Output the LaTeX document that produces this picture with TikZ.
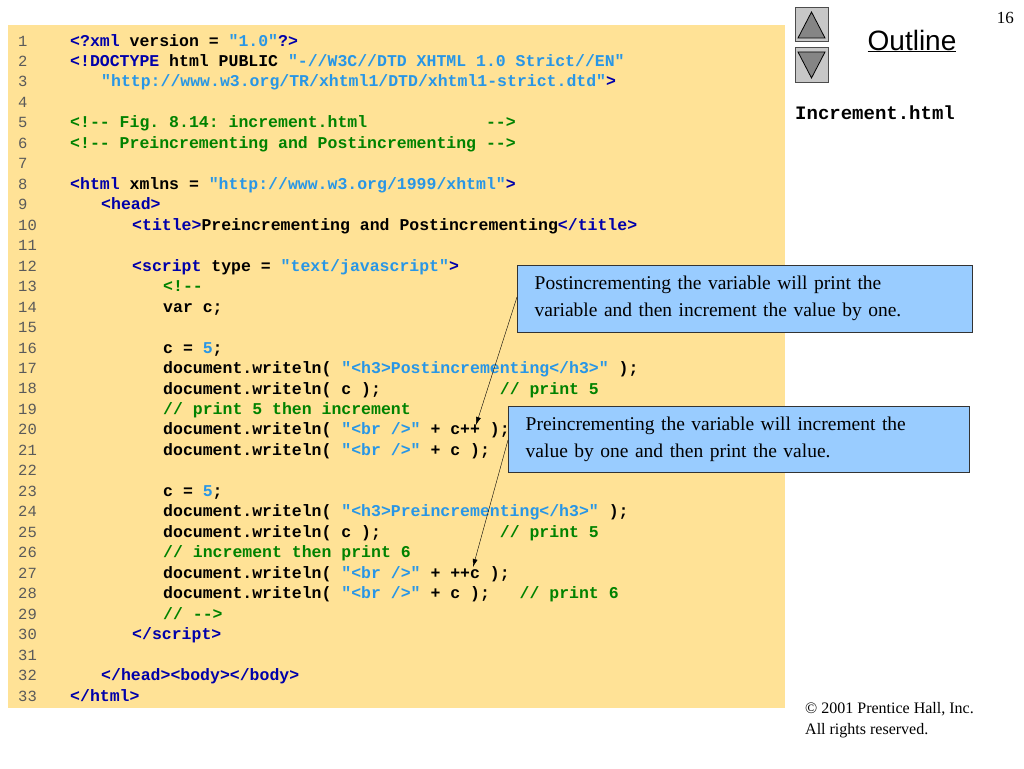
\documentclass[tikz,border=0pt]{standalone}
\usepackage{fontspec}
\setmainfont{Liberation Serif}
\setsansfont{Liberation Sans}
\setmonofont{Liberation Mono}
\usetikzlibrary{arrows.meta, positioning}
\definecolor{panelYellow}{RGB}{255, 226, 150}
\definecolor{tagBlue}{RGB}{0, 0, 170}
\definecolor{strBlue}{RGB}{40, 150, 230}
\definecolor{cmtGreen}{RGB}{0, 130, 0}
\definecolor{numGray}{RGB}{90, 90, 90}
\definecolor{noteBlue}{RGB}{153, 204, 255}
\newcommand\tg[1]{{\color{tagBlue}#1}}
\newcommand\st[1]{{\color{strBlue}#1}}
\newcommand\cm[1]{{\color{cmtGreen}#1}}
\newcommand\gap[1]{\hspace*{#1\fontcharwd\font`0}}
\tikzset{
    codeline/.style={anchor=base west, inner sep=0pt, font=\ttfamily\bfseries\fontsize{16.5}{18}\selectfont},
    lineno/.style={anchor=base west, inner sep=0pt, text=numGray, font=\ttfamily\fontsize{15.5}{18}\selectfont},
    note/.style={rectangle, draw=black!80, fill=noteBlue, inner sep=0pt, anchor=north west,
        align=left, font=\fontsize{19.5}{27}\selectfont},
    pointer/.style={-{Latex[length=8pt,width=5pt]}, black},
    navbtn/.style={draw=black!70, fill=black!22, line width=1pt},
    navtri/.style={draw=black, fill=black!48, line width=0.8pt}
}
\begin{document}
\begin{tikzpicture}[x=1pt, y=-1pt]
    \useasboundingbox (0,0) rectangle (1024,768);
    \fill[white] (0,0) rectangle (1024,768);
    \fill[panelYellow] (8,25) rectangle (785,708);

    % line numbers
    \foreach \n in {1,...,33}
        \node[lineno] (n\n) at (18, {46+(\n-1)*20.47}) {\n};

    % code
    \node[codeline] (c1)  at (70,46)  {\tg{<?xml} version = \st{"1.0"}\tg{?>}};
    \node[codeline] (c2)  at (70,66.5)  {\tg{<!DOCTYPE} html PUBLIC \st{"-//W3C//DTD XHTML 1.0 Strict//EN"}};
    \node[codeline] (c3)  at (101,86.9) {\st{"http://www.w3.org/TR/xhtml1/DTD/xhtml1-strict.dtd"}\tg{>}};
    \node[codeline] (c5)  at (70,127.9) {\cm{<!-- Fig. 8.14: increment.html\gap{12}-->}};
    \node[codeline] (c6)  at (70,148.4) {\cm{<!-- Preincrementing and Postincrementing -->}};
    \node[codeline] (c8)  at (70,189.3) {\tg{<html} xmlns = \st{"http://www.w3.org/1999/xhtml"}\tg{>}};
    \node[codeline] (c9)  at (101,209.8) {\tg{<head>}};
    \node[codeline] (c10) at (132,230.2) {\tg{<title>}Preincrementing and Postincrementing\tg{</title>}};
    \node[codeline] (c12) at (132,271.2) {\tg{<script} type = \st{"text/javascript"}\tg{>}};
    \node[codeline] (c13) at (163,291.6) {\cm{<!--}};
    \node[codeline] (c14) at (163,312.1) {var c;};
    \node[codeline] (c16) at (163,353.0) {c = \st{5};};
    \node[codeline] (c17) at (163,373.5) {document.writeln( \st{"<h3>Postincrementing</h3>"} );};
    \node[codeline] (c18) at (163,394.0) {document.writeln( c );\gap{12}\cm{// print 5}};
    \node[codeline] (c19) at (163,414.4) {\cm{// print 5 then increment}};
    \node[codeline] (c20) at (163,434.9) {document.writeln( \st{"<br />"} + c++ );};
    \node[codeline] (c21) at (163,455.4) {document.writeln( \st{"<br />"} + c );};
    \node[codeline] (c23) at (163,496.3) {c = \st{5};};
    \node[codeline] (c24) at (163,516.8) {document.writeln( \st{"<h3>Preincrementing</h3>"} );};
    \node[codeline] (c25) at (163,537.3) {document.writeln( c );\gap{12}\cm{// print 5}};
    \node[codeline] (c26) at (163,557.7) {\cm{// increment then print 6}};
    \node[codeline] (c27) at (163,578.2) {document.writeln( \st{"<br />"} + ++c );};
    \node[codeline] (c28) at (163,598.7) {document.writeln( \st{"<br />"} + c );\gap{3}\cm{// print 6}};
    \node[codeline] (c29) at (163,619.1) {\cm{// -->}};
    \node[codeline] (c30) at (132,639.6) {\tg{</script>}};
    \node[codeline] (c32) at (101,680.5) {\tg{</head><body></body>}};
    \node[codeline] (c33) at (70,701.0) {\tg{</html>}};

    % callouts
    \node[note, minimum width=455pt, minimum height=67pt, text width=440pt] (post) at (517,265)
        {\hspace*{10pt}Postincrementing the variable will print the\\\hspace*{10pt}variable and then increment the value by one.};
    \node[note, minimum width=461pt, minimum height=66pt, text width=446pt] (pre) at (508,406)
        {\hspace*{10pt}Preincrementing the variable will increment the\\\hspace*{10pt}value by one and then print the value.};
    \coordinate (postfrom) at (517,297);
    \coordinate (postto) at (476,425);
    \coordinate (prefrom) at (508,440);
    \coordinate (preto) at (473,567);
    \draw[pointer] (postfrom) -- (postto);
    \draw[pointer] (prefrom) -- (preto);

    % sidebar
    \node[anchor=base east, inner sep=0pt, font=\fontsize{17}{20}\selectfont] (page) at (1014,24) {16};
    \draw[navbtn] (795,8) rectangle (828,42);
    \draw[navtri] (811.5,12) -- (825,38) -- (798,38) -- cycle;
    \draw[navbtn] (795,48) rectangle (828,82);
    \draw[navtri] (798,52) -- (825,52) -- (811.5,78) -- cycle;
    \node[anchor=base, inner sep=0pt, font=\sffamily\fontsize{28}{32}\selectfont] (outline) at (912,50) {\underline{Outline}};
    \node[anchor=base west, inner sep=0pt, font=\ttfamily\bfseries\fontsize{19}{22}\selectfont] (fname) at (795,119) {Increment.html};
    \node[anchor=base west, inner sep=0pt, align=left, font=\fontsize{16}{20.5}\selectfont] (copy) at (805,734)
        {\textcopyright{} 2001 Prentice Hall, Inc.\\All rights reserved.};
\end{tikzpicture}
\end{document}
